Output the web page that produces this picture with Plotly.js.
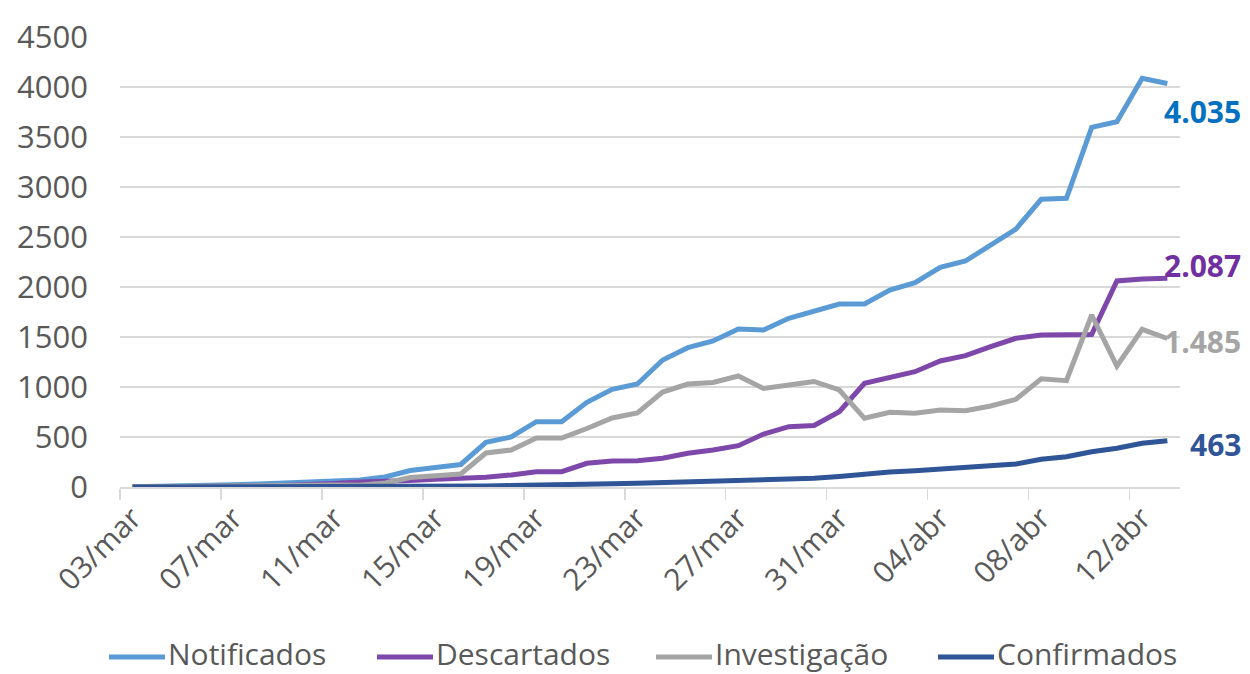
<!DOCTYPE html>
<html>
<head>
<meta charset="utf-8">
<script src="https://cdn.plot.ly/plotly-3.0.1.min.js"></script>
<style>
  html, body { margin: 0; padding: 0; background: #ffffff; }
  #chart { width: 1250px; height: 674px; }
</style>
</head>
<body>
<div id="chart"></div>
<script>
// ---- Data ----
const dates = [
  "03/mar","04/mar","05/mar","06/mar","07/mar","08/mar","09/mar","10/mar","11/mar","12/mar",
  "13/mar","14/mar","15/mar","16/mar","17/mar","18/mar","19/mar","20/mar","21/mar","22/mar",
  "23/mar","24/mar","25/mar","26/mar","27/mar","28/mar","29/mar","30/mar","31/mar","01/abr",
  "02/abr","03/abr","04/abr","05/abr","06/abr","07/abr","08/abr","09/abr","10/abr","11/abr",
  "12/abr","13/abr"
];
const notificados = [
  2,4,8,14,22,30,38,45,55,70,
  100,165,195,225,447,500,653,653,847,977,
  1030,1270,1393,1460,1580,1570,1687,1753,1830,1830,
  1970,2043,2197,2260,2413,2580,2877,2887,3597,3653,
  4087,4035
];
const descartados = [
  0,0,1,3,6,10,14,20,35,50,
  55,65,78,88,97,120,153,153,237,260,
  263,287,337,370,413,530,603,615,753,1037,
  1097,1153,1260,1313,1403,1487,1520,1520,1525,2060,
  2080,2087
];
const investigacao = [
  2,4,7,11,16,20,24,25,20,17,
  40,95,115,130,340,370,490,490,585,690,
  740,950,1030,1045,1110,985,1020,1055,970,687,
  747,737,770,763,810,877,1083,1063,1720,1210,
  1577,1485
];
const confirmados = [
  0,0,0,0,0,1,1,2,2,3,
  4,5,6,8,10,14,16,20,30,33,
  38,45,48,52,57,62,72,87,105,130,
  150,163,177,203,217,230,277,303,353,387,
  437,463
];
const seriesNames = ["Notificados", "Descartados", "Investigação", "Confirmados"];
const lineColors = ["#5B9BD5", "#7E48AB", "#A5A5A5", "#2F5597"];
const labelColors = ["#0070C0", "#7030A0", "#A5A5A5", "#2F5597"];
const yTickVals = [0,500,1000,1500,2000,2500,3000,3500,4000,4500];

// ---- Layout geometry (pixels) ----
const W = 1250, H = 674;
const M = { l: 120, r: 70, t: 37, b: 187 };
const plotW = W - M.l - M.r, plotH = H - M.t - M.b;
const px2x = p => (p - M.l) / plotW;
const px2y = p => (H - M.b - p) / plotH;
const legendLineStart = [109, 377, 656, 938];
const legendLineLen = 56;
const legendY = 653;
const labelShifts = [-28, 13, -3, -4];

// ---- Build chart ----
const allSeries = [notificados, descartados, investigacao, confirmados];

function fmt(v) {
  return String(v).replace(/\B(?=(\d{3})+(?!\d))/g, ".");
}

const traces = allSeries.map((ys, k) => ({
  type: "scatter",
  mode: "lines",
  name: seriesNames[k],
  x: dates,
  y: ys,
  line: { color: lineColors[k], width: 5, shape: "linear" },
  showlegend: false,
  hoverinfo: "x+y+name"
}));

const lastIdx = dates.length - 1;
const annotations = allSeries.map((ys, k) => ({
  x: dates[lastIdx],
  y: ys[lastIdx],
  xref: "x",
  yref: "y",
  text: "<b>" + fmt(ys[lastIdx]) + "</b>",
  showarrow: false,
  xanchor: "right",
  yanchor: "middle",
  xshift: 76,
  yshift: labelShifts[k],
  font: { family: "Open Sans, sans-serif", size: 30, color: labelColors[k] }
}));

// legend (drawn as line samples + text)
const shapes = [];
seriesNames.forEach((name, k) => {
  const x0 = legendLineStart[k];
  shapes.push({
    type: "line",
    xref: "paper", yref: "paper",
    x0: px2x(x0), x1: px2x(x0 + legendLineLen),
    y0: px2y(legendY + 4), y1: px2y(legendY + 4),
    line: { color: lineColors[k], width: 5 }
  });
  annotations.push({
    xref: "paper", yref: "paper",
    x: px2x(x0 + legendLineLen + 2),
    y: px2y(legendY),
    xanchor: "left", yanchor: "middle",
    text: name,
    showarrow: false,
    borderpad: 0,
    font: { family: "Open Sans, sans-serif", size: 30, color: "#595959" }
  });
});

const layout = {
  width: W,
  height: H,
  margin: { l: M.l, r: M.r, t: M.t, b: M.b, pad: 0 },
  paper_bgcolor: "#ffffff",
  plot_bgcolor: "#ffffff",
  font: { family: "Open Sans, sans-serif", color: "#595959" },
  showlegend: false,
  xaxis: {
    type: "category",
    categoryorder: "array",
    categoryarray: dates,
    range: [-0.5, dates.length - 0.5],
    tickmode: "linear",
    tick0: 0,
    dtick: 4,
    tickangle: -45,
    tickson: "boundaries",
    ticks: "outside",
    ticklen: 11,
    tickwidth: 1.5,
    tickcolor: "#D9D9D9",
    showgrid: false,
    showline: true,
    linecolor: "#D9D9D9",
    linewidth: 1.5,
    zeroline: false,
    automargin: false,
    tickfont: { size: 30, color: "#595959" },
    fixedrange: true
  },
  yaxis: {
    range: [0, 4500],
    tickmode: "array",
    tickvals: yTickVals,
    ticktext: yTickVals.map(String),
    showgrid: true,
    gridcolor: "#D9D9D9",
    gridwidth: 1.5,
    zeroline: false,
    showline: false,
    ticks: "",
    ticklabelstandoff: 31,
    automargin: false,
    tickfont: { size: 31, color: "#595959" },
    fixedrange: true
  },
  shapes: shapes,
  annotations: annotations
};

Plotly.newPlot("chart", traces, layout, { displayModeBar: false, staticPlot: true });
</script>
</body>
</html>
